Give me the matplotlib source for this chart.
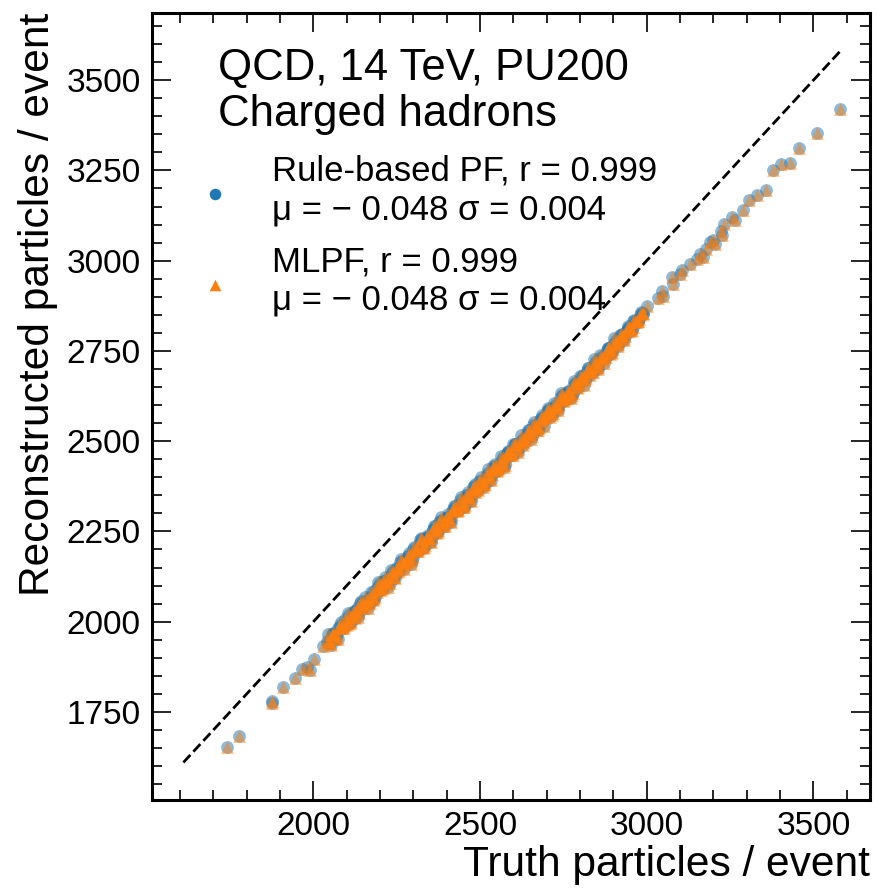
import matplotlib
matplotlib.use("Agg")
import matplotlib.pyplot as plt
from matplotlib.ticker import MultipleLocator

plt.rcParams["font.family"] = ["Liberation Sans", "DejaVu Sans"]

# truth vs reconstructed charged hadrons per event
# isolated events at low multiplicity
truth_low = [1740, 1777, 1875, 1877, 1910, 1945, 1965, 1980, 1990, 2002, 2030]
reco_low = [1652, 1683, 1781, 1775, 1819, 1844, 1870, 1875, 1866, 1896, 1933]

# dense band
truth_band = [
    2040, 2050, 2060, 2070, 2080, 2090, 2100, 2110, 2120, 2130,
    2140, 2150, 2160, 2170, 2180, 2190, 2200, 2210, 2220, 2230,
    2240, 2250, 2260, 2270, 2280, 2290, 2300, 2310, 2320, 2330,
    2340, 2350, 2360, 2370, 2380, 2390, 2400, 2410, 2420, 2430,
    2440, 2450, 2460, 2470, 2480, 2490, 2500, 2510, 2520, 2530,
    2540, 2550, 2560, 2570, 2580, 2590, 2600, 2610, 2620, 2630,
    2640, 2650, 2660, 2670, 2680, 2690, 2700, 2710, 2720, 2730,
    2740, 2750, 2760, 2770, 2780, 2790, 2800, 2810, 2820, 2830,
    2840, 2850, 2860, 2870, 2880, 2890, 2900, 2910, 2920, 2930,
    2940, 2950, 2960, 2970, 2980, 2990,
    2045, 2055, 2065, 2075, 2085, 2095, 2105, 2115, 2125, 2135,
    2145, 2155, 2165, 2175, 2185, 2195, 2205, 2215, 2225, 2235,
    2245, 2255, 2265, 2275, 2285, 2295, 2305, 2315, 2325, 2335,
    2345, 2355, 2365, 2375, 2385, 2395, 2405, 2415, 2425, 2435,
    2445, 2455, 2465, 2475, 2485, 2495, 2505, 2515, 2525, 2535,
    2545, 2555, 2565, 2575, 2585, 2595, 2605, 2615, 2625, 2635,
    2645, 2655, 2665, 2675, 2685, 2695, 2705, 2715, 2725, 2735,
    2745, 2755, 2765, 2775, 2785, 2795, 2805, 2815, 2825, 2835,
    2845, 2855, 2865, 2875, 2885, 2895, 2905, 2915, 2925, 2935,
    2945, 2955, 2965, 2975, 2985,
    2043, 2053, 2063, 2073, 2083, 2093, 2103, 2113, 2123, 2133,
    2143, 2153, 2163, 2173, 2183, 2193, 2203, 2213, 2223, 2233,
    2243, 2253, 2263, 2273, 2283, 2293, 2303, 2313, 2323, 2333,
    2343, 2353, 2363, 2373, 2383, 2393, 2403, 2413, 2423, 2433,
    2443, 2453, 2463, 2473, 2483, 2493, 2503, 2513, 2523, 2533,
    2543, 2553, 2563, 2573, 2583, 2593, 2603, 2613, 2623, 2633,
    2643, 2653, 2663, 2673, 2683, 2693, 2703, 2713, 2723, 2733,
    2743, 2753, 2763, 2773, 2783, 2793, 2803, 2813, 2823, 2833,
    2843, 2853, 2863, 2873, 2883, 2893, 2903, 2913, 2923, 2933,
    2943, 2953, 2963, 2973, 2983,
    2048, 2058, 2068, 2078, 2088, 2098, 2108, 2118, 2128, 2138,
    2148, 2158, 2168, 2178, 2188, 2198, 2208, 2218, 2228, 2238,
    2248, 2258, 2268, 2278, 2288, 2298, 2308, 2318, 2328, 2338,
    2348, 2358, 2368, 2378, 2388, 2398, 2408, 2418, 2428, 2438,
    2448, 2458, 2468, 2478, 2488, 2498, 2508, 2518, 2528, 2538,
    2548, 2558, 2568, 2578, 2588, 2598, 2608, 2618, 2628, 2638,
    2648, 2658, 2668, 2678, 2688, 2698, 2708, 2718, 2728, 2738,
    2748, 2758, 2768, 2778, 2788, 2798, 2808, 2818, 2828, 2838,
    2848, 2858, 2868, 2878, 2888, 2898, 2908, 2918, 2928, 2938,
    2948, 2958, 2968, 2978, 2988]
reco_band = [
    1946, 1942, 1970, 1967, 1992, 1982, 2001, 1995, 2028, 2025,
    2052, 2038, 2061, 2053, 2083, 2083, 2107, 2093, 2116, 2107,
    2141, 2137, 2166, 2153, 2172, 2168, 2200, 2195, 2225, 2208,
    2234, 2223, 2258, 2255, 2279, 2266, 2289, 2279, 2312, 2307,
    2338, 2321, 2344, 2338, 2373, 2367, 2389, 2374, 2405, 2402,
    2432, 2418, 2440, 2435, 2466, 2461, 2491, 2476, 2499, 2490,
    2524, 2521, 2545, 2531, 2558, 2555, 2585, 2567, 2591, 2591,
    2620, 2614, 2637, 2622, 2653, 2646, 2680, 2672, 2695, 2682,
    2708, 2706, 2739, 2727, 2753, 2742, 2769, 2768, 2793, 2783,
    2809, 2810, 2832, 2831, 2849, 2852,
    1941, 1967, 1951, 1982, 1983, 2007, 1994, 2017, 2010, 2042,
    2038, 2067, 2053, 2072, 2068, 2100, 2094, 2123, 2109, 2134,
    2121, 2150, 2168, 2159, 2183, 2171, 2199, 2201, 2229, 2212,
    2234, 2234, 2264, 2255, 2281, 2265, 2297, 2298, 2321, 2308,
    2332, 2324, 2358, 2351, 2381, 2366, 2386, 2382, 2412, 2409,
    2437, 2425, 2448, 2435, 2470, 2468, 2493, 2478, 2502, 2503,
    2530, 2514, 2542, 2539, 2572, 2563, 2585, 2573, 2596, 2595,
    2627, 2618, 2639, 2627, 2662, 2660, 2674, 2670, 2704, 2692,
    2717, 2705, 2730, 2733, 2759, 2748, 2772, 2764, 2798, 2792,
    2814, 2807, 2831, 2833, 2856,
    1965, 1936, 1966, 1953, 1998, 1986, 2024, 1998, 2030, 2012,
    2057, 2047, 2037, 2081, 2062, 2109, 2088, 2113, 2096, 2144,
    2123, 2148, 2173, 2147, 2183, 2161, 2206, 2197, 2232, 2206,
    2239, 2221, 2266, 2248, 2291, 2272, 2289, 2277, 2320, 2308,
    2345, 2319, 2350, 2333, 2375, 2371, 2401, 2379, 2424, 2393,
    2428, 2420, 2460, 2428, 2474, 2465, 2490, 2471, 2518, 2498,
    2519, 2506, 2552, 2531, 2563, 2543, 2592, 2577, 2606, 2586,
    2633, 2610, 2634, 2621, 2667, 2651, 2679, 2656, 2703, 2694,
    2727, 2701, 2733, 2717, 2758, 2744, 2785, 2768, 2793, 2779,
    2819, 2804, 2836, 2834, 2859,
    1947, 1967, 1958, 1983, 1988, 1990, 2018, 2014, 2032, 2025,
    2054, 2049, 2066, 2061, 2090, 2091, 2114, 2104, 2125, 2125,
    2150, 2139, 2162, 2165, 2189, 2179, 2198, 2214, 2204, 2231,
    2233, 2254, 2247, 2276, 2268, 2286, 2282, 2310, 2310, 2327,
    2319, 2350, 2346, 2361, 2360, 2389, 2382, 2402, 2395, 2423,
    2426, 2427, 2457, 2451, 2470, 2463, 2492, 2491, 2506, 2504,
    2532, 2525, 2542, 2537, 2567, 2566, 2588, 2579, 2602, 2603,
    2628, 2620, 2636, 2634, 2661, 2661, 2682, 2675, 2695, 2692,
    2722, 2720, 2736, 2733, 2759, 2755, 2780, 2780, 2795, 2802,
    2817, 2816, 2833, 2838, 2854]

# isolated events at high multiplicity
truth_high = [3000, 3035, 3045, 3050, 3075, 3080, 3100, 3105, 3130, 3150,
              3160, 3168, 3178, 3190, 3200, 3205, 3222, 3225, 3232, 3255,
              3265, 3288, 3308, 3332, 3358, 3378, 3402, 3430, 3458, 3510, 3580]
reco_high = [2875, 2898, 2917, 2903, 2954, 2935, 2963, 2974, 2991, 3005,
             3019, 3009, 3032, 3051, 3056, 3046, 3083, 3072, 3102, 3122,
             3113, 3141, 3169, 3181, 3196, 3252, 3267, 3270, 3313, 3354, 3421]

truth = truth_low + truth_band + truth_high
reco_pf = reco_low + reco_band + reco_high
reco_mlpf = reco_pf

diag = [1610, 3585]
label_pf = "Rule-based PF, r = 0.999\nμ = − 0.048 σ = 0.004"
label_mlpf = "MLPF, r = 0.999\nμ = − 0.048 σ = 0.004"

fig = plt.figure(figsize=(8.8, 8.88), dpi=100)
ax = fig.add_axes([0.1724, 0.0991, 0.8163, 0.8866])

ax.plot(diag, diag, color="black", ls="--", lw=2)
ax.scatter(truth, reco_pf, marker="o", s=85, color="#1f77b4", alpha=0.5,
           linewidths=0, label=label_pf)
ax.scatter(truth, reco_mlpf, marker="^", s=85, color="#ff7f0e", alpha=0.5,
           linewidths=0, label=label_mlpf)

ax.set_xlim(1515, 3670)
ax.set_ylim(1506, 3687)
ax.xaxis.set_major_locator(MultipleLocator(500))
ax.xaxis.set_minor_locator(MultipleLocator(100))
ax.yaxis.set_major_locator(MultipleLocator(250))
ax.yaxis.set_minor_locator(MultipleLocator(50))
ax.tick_params(which="both", direction="in", top=True, right=True, labelsize=24)
ax.tick_params(which="major", length=14, width=1.2, pad=8)
ax.tick_params(which="minor", length=7, width=1.2)
for s in ax.spines.values():
    s.set_linewidth(2.2)

ax.set_xlabel("Truth particles / event", loc="right", fontsize=30.6, labelpad=2)
ax.set_ylabel("Reconstructed particles / event", loc="top", fontsize=30.6, labelpad=6)

ax.text(0.092, 0.9145, "QCD, 14 TeV, PU200", transform=ax.transAxes, fontsize=31.5,
        va="baseline")
ax.text(0.092, 0.856, "Charged hadrons", transform=ax.transAxes, fontsize=31.5,
        va="baseline")

leg = ax.legend(loc="upper left", bbox_to_anchor=(0.0444, 0.837), frameon=False,
                fontsize=25, handletextpad=1.15, labelspacing=0.55,
                borderaxespad=0, handlelength=1.0, markerscale=0.9)
for h in leg.legend_handles:
    h.set_alpha(1)

fig.savefig("out.png", dpi=100)
